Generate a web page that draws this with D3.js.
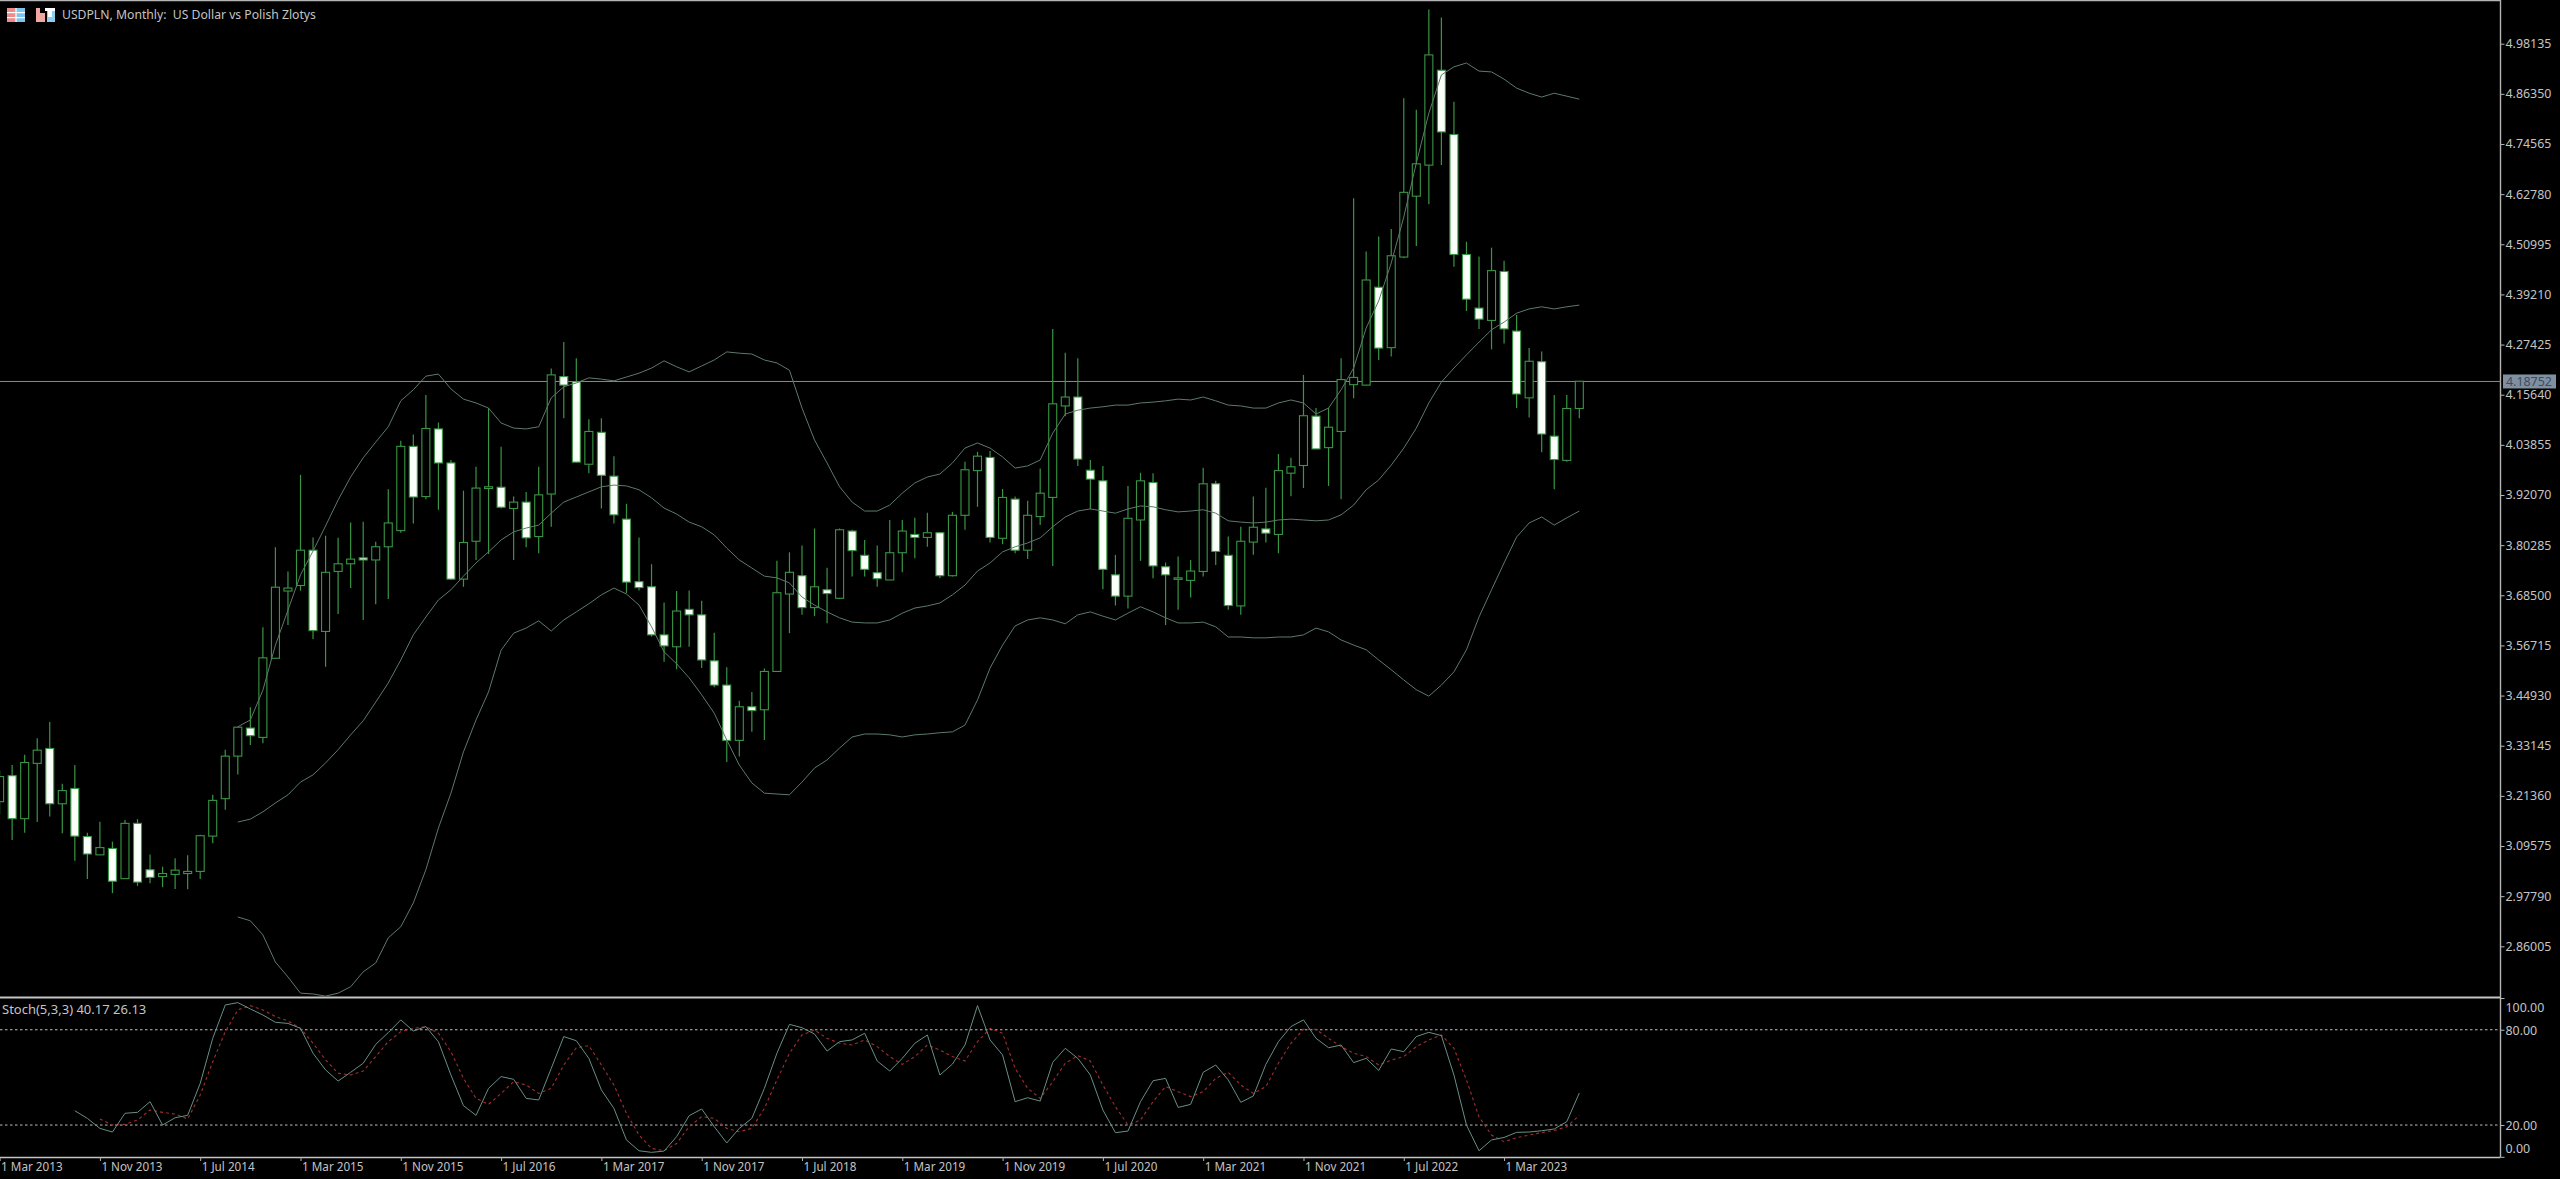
<!DOCTYPE html>
<html>
<head>
<meta charset="utf-8">
<title>USDPLN, Monthly</title>
<script src="https://cdn.jsdelivr.net/npm/d3@7/dist/d3.min.js"></script>
<style>
html,body{margin:0;padding:0;background:#000;overflow:hidden}
svg{display:block}
text{font-family:"Noto Sans","Open Sans",sans-serif;fill:#c8c8c8}
</style>
</head>
<body>
<script>
const chartTitle = "USDPLN, Monthly:  US Dollar vs Polish Zlotys";
const stochTitle = "Stoch(5,3,3) 40.17 26.13";
const dateLabels = ["1 Mar 2013","1 Nov 2013","1 Jul 2014","1 Mar 2015","1 Nov 2015","1 Jul 2016","1 Mar 2017","1 Nov 2017","1 Jul 2018","1 Mar 2019","1 Nov 2019","1 Jul 2020","1 Mar 2021","1 Nov 2021","1 Jul 2022","1 Mar 2023"];
const priceTicks = [4.98135,4.86350,4.74565,4.62780,4.50995,4.39210,4.27425,4.15640,4.03855,3.92070,3.80285,3.68500,3.56715,3.44930,3.33145,3.21360,3.09575,2.97790,2.86005];
const stochTicks = [100,80,20,0];
const stochLevels = [80,20];
const lastPrice = 4.18752;

const opens = [3.200,3.261,3.160,3.290,3.325,3.195,3.231,3.118,3.075,3.090,
3.019,3.149,3.040,3.024,3.029,3.031,3.036,3.119,3.207,3.307,
3.373,3.351,3.537,3.695,3.708,3.791,3.600,3.741,3.759,3.773,
3.768,3.799,3.837,4.035,3.917,4.076,3.996,3.723,3.812,3.936,
3.939,3.889,3.904,3.823,3.923,4.199,4.187,3.993,4.068,3.965,
3.864,3.717,3.705,3.592,3.564,3.652,3.639,3.531,3.474,3.344,
3.423,3.416,3.506,3.688,3.731,3.656,3.698,3.678,3.836,3.779,
3.738,3.721,3.785,3.828,3.821,3.832,3.731,3.873,3.978,4.009,
3.819,3.911,3.791,3.870,3.915,4.130,4.151,3.979,3.954,3.733,
3.683,3.862,3.950,3.752,3.724,3.720,3.741,3.947,3.779,3.660,
3.810,3.841,3.828,3.972,3.990,4.106,4.032,4.070,4.180,4.179,
4.409,4.267,4.480,4.623,4.696,4.919,4.768,4.486,4.360,4.331,
4.446,4.306,4.149,4.234,4.059,4.002,4.124];
const highs = [3.274,3.286,3.310,3.349,3.387,3.242,3.286,3.127,3.153,3.106,
3.157,3.159,3.076,3.047,3.067,3.074,3.122,3.216,3.322,3.376,
3.422,3.610,3.798,3.741,3.968,3.821,3.825,3.820,3.856,3.858,
3.811,3.934,4.048,4.063,4.156,4.091,4.003,3.931,3.987,4.125,
4.034,3.917,3.928,3.987,4.218,4.280,4.242,4.099,4.101,4.012,
3.900,3.821,3.758,3.668,3.695,3.696,3.672,3.597,3.516,3.437,
3.458,3.513,3.766,3.786,3.802,3.842,3.750,3.842,3.839,3.815,
3.802,3.862,3.862,3.867,3.879,3.834,3.881,3.999,4.022,4.024,
3.935,3.917,3.907,3.983,4.311,4.255,4.242,4.003,3.989,3.780,
3.942,3.973,3.972,3.762,3.776,3.768,3.985,3.954,3.823,3.846,
3.917,3.938,4.017,4.008,4.203,4.125,4.125,4.242,4.618,4.493,
4.528,4.546,4.853,4.826,5.062,5.043,4.845,4.516,4.481,4.502,
4.471,4.344,4.266,4.258,4.156,4.156,4.188];
const lows = [3.169,3.110,3.127,3.152,3.165,3.126,3.061,3.018,3.075,2.985,
3.018,3.002,3.008,2.999,2.995,2.994,3.018,3.102,3.181,3.264,
3.333,3.337,3.537,3.615,3.696,3.582,3.517,3.641,3.702,3.627,
3.664,3.676,3.832,3.854,3.911,3.886,3.721,3.705,3.768,3.782,
3.889,3.768,3.798,3.784,3.846,4.101,3.997,3.972,3.889,3.854,
3.690,3.696,3.588,3.529,3.511,3.564,3.514,3.469,3.293,3.306,
3.364,3.345,3.505,3.596,3.639,3.636,3.619,3.676,3.729,3.729,
3.705,3.721,3.739,3.772,3.799,3.725,3.729,3.839,3.893,3.809,
3.805,3.784,3.770,3.850,3.754,4.106,3.989,3.887,3.699,3.661,
3.654,3.766,3.725,3.615,3.651,3.680,3.729,3.756,3.651,3.639,
3.780,3.809,3.784,3.918,3.937,4.029,3.942,3.911,4.148,4.178,
4.238,4.246,4.477,4.506,4.604,4.696,4.457,4.353,4.311,4.263,
4.277,4.125,4.103,4.021,3.934,3.999,4.101];
const closes = [3.259,3.160,3.292,3.321,3.195,3.226,3.119,3.077,3.092,3.013,
3.149,3.011,3.022,3.031,3.039,3.036,3.120,3.203,3.307,3.375,
3.355,3.538,3.704,3.702,3.791,3.602,3.739,3.759,3.770,3.768,
3.799,3.855,4.035,3.916,4.077,3.996,3.723,3.809,3.937,3.940,
3.892,3.904,3.820,3.921,4.203,4.179,3.998,4.070,3.967,3.874,
3.716,3.703,3.592,3.566,3.648,3.639,3.533,3.474,3.344,3.423,
3.414,3.506,3.691,3.739,3.656,3.705,3.689,3.839,3.790,3.746,
3.724,3.785,3.836,3.821,3.832,3.731,3.873,3.980,4.012,3.821,
3.915,3.791,3.873,3.925,4.135,4.151,4.005,3.958,3.746,3.683,
3.866,3.954,3.754,3.733,3.726,3.742,3.947,3.788,3.661,3.812,
3.845,3.831,3.978,3.987,4.107,4.029,4.080,4.192,4.197,4.426,
4.266,4.483,4.632,4.699,4.955,4.774,4.486,4.381,4.334,4.448,
4.311,4.158,4.235,4.064,4.004,4.124,4.188];

const bandFirstBar = 19;
const bollUpper = [3.376,3.392,3.462,3.568,3.650,3.733,3.789,3.848,3.909,3.963,4.008,
4.045,4.081,4.142,4.168,4.200,4.205,4.170,4.146,4.137,4.125,
4.090,4.078,4.076,4.081,4.149,4.175,4.184,4.196,4.193,4.189,
4.198,4.207,4.219,4.236,4.222,4.210,4.224,4.238,4.257,4.254,
4.252,4.238,4.231,4.214,4.125,4.050,3.996,3.940,3.904,3.883,
3.883,3.897,3.925,3.949,3.963,3.970,3.996,4.031,4.043,4.031,
4.010,3.984,3.989,4.003,4.066,4.111,4.120,4.125,4.128,4.132,
4.132,4.137,4.139,4.142,4.146,4.144,4.151,4.142,4.132,4.130,
4.125,4.125,4.137,4.144,4.137,4.111,4.125,4.168,4.219,4.313,
4.377,4.466,4.574,4.701,4.818,4.908,4.927,4.936,4.917,4.915,
4.898,4.877,4.865,4.856,4.865,4.858,4.851];
const bollMiddle = [3.152,3.159,3.176,3.197,3.216,3.246,3.263,3.291,3.322,3.357,3.390,
3.434,3.479,3.533,3.592,3.634,3.674,3.698,3.730,3.761,3.787,
3.815,3.834,3.843,3.850,3.878,3.904,3.916,3.928,3.940,3.944,
3.942,3.933,3.914,3.890,3.876,3.857,3.846,3.827,3.796,3.768,
3.749,3.730,3.726,3.714,3.681,3.662,3.646,3.632,3.622,3.620,
3.620,3.627,3.643,3.655,3.660,3.667,3.686,3.709,3.742,3.761,
3.787,3.799,3.808,3.820,3.846,3.869,3.883,3.888,3.883,3.878,
3.888,3.895,3.893,3.886,3.881,3.883,3.886,3.878,3.860,3.857,
3.855,3.857,3.862,3.864,3.862,3.860,3.862,3.874,3.897,3.933,
3.956,3.991,4.031,4.078,4.137,4.186,4.219,4.250,4.280,4.309,
4.327,4.348,4.358,4.363,4.358,4.363,4.367];
const bollLower = [2.929,2.920,2.887,2.823,2.788,2.750,2.748,2.743,2.750,2.765,2.800,
2.821,2.880,2.906,2.962,3.040,3.138,3.220,3.317,3.392,3.458,
3.556,3.596,3.608,3.625,3.601,3.627,3.646,3.665,3.686,3.702,
3.688,3.662,3.611,3.552,3.524,3.491,3.451,3.408,3.345,3.286,
3.244,3.220,3.218,3.216,3.246,3.279,3.298,3.326,3.352,3.359,
3.359,3.357,3.352,3.357,3.359,3.362,3.364,3.380,3.439,3.514,
3.568,3.613,3.627,3.632,3.627,3.618,3.639,3.646,3.636,3.627,
3.643,3.658,3.646,3.632,3.620,3.620,3.622,3.611,3.587,3.587,
3.585,3.585,3.587,3.587,3.592,3.608,3.599,3.580,3.568,3.557,
3.533,3.510,3.486,3.463,3.448,3.474,3.505,3.557,3.634,3.698,
3.761,3.822,3.855,3.869,3.850,3.867,3.883];

const stochKFirstBar = 6;
const stochK = [29.0,24.2,17.9,15.6,27.4,28.0,34.7,20.0,24.6,26.1,
46.2,74.6,95.6,97.1,93.1,89.3,84.7,84.0,80.9,65.2,
54.7,47.7,53.2,58.9,70.8,78.2,86.2,79.2,82.0,72.5,
51.5,32.2,26.1,43.1,50.5,48.8,36.8,35.8,55.7,75.7,
73.1,62.0,42.1,30.5,10.6,3.8,2.8,3.6,12.7,25.9,
30.1,19.0,8.7,17.9,24.2,43.1,65.2,83.4,81.3,77.3,
66.6,72.5,73.6,77.8,60.3,54.0,62.0,71.5,76.7,51.5,
58.4,70.4,95.2,73.6,64.1,34.7,37.2,35.1,59.5,68.3,
62.0,51.5,29.5,15.2,16.2,34.7,47.9,49.4,31.1,33.0,
53.2,57.8,48.4,34.3,38.3,58.2,72.5,82.0,86.2,74.6,
68.7,70.4,59.3,62.0,54.4,67.9,66.2,75.7,78.4,76.3,
51.5,20.0,3.8,10.6,12.2,15.4,15.6,16.4,17.5,22.1,40.17];
const stochDFirstBar = 8;
const stochD = [23.8,20.0,20.4,23.2,29.5,28.0,26.9,23.8,38.9,59.9,
78.8,92.5,95.2,92.5,88.3,85.5,80.9,71.5,61.0,52.6,
51.5,54.0,63.1,72.5,78.8,80.9,82.0,77.8,66.2,49.4,
36.8,33.0,39.9,47.3,45.2,39.9,43.1,57.8,68.7,70.0,
57.8,45.2,27.4,13.7,5.3,3.8,8.4,19.0,25.3,24.2,
17.9,15.8,17.9,30.5,48.4,65.2,76.7,79.9,74.6,71.5,
70.4,73.6,69.4,63.1,58.2,63.1,70.4,67.2,63.1,60.3,
72.5,80.9,77.8,55.7,43.1,36.8,47.3,58.9,63.7,60.3,
45.2,31.6,20.0,23.2,34.7,44.2,41.0,37.9,41.0,49.4,
53.2,45.2,39.9,44.2,58.9,71.5,80.3,80.3,74.6,69.4,
65.2,63.1,57.8,60.9,63.1,69.4,73.6,76.7,68.3,48.4,
25.2,13.7,9.5,12.0,13.7,15.2,16.6,18.9,26.13];

const W = 2560, H = 1179, AX = 2500.5;
const GREEN = "#3a9644", BAND = "#5d7a6a", GREY = "#b4b4b4", TEXT = "#c4c4c4";

const x = d3.scaleLinear().domain([0, 126]).range([-0.4, 1579.3]);
const y = d3.scaleLinear().domain([4.98135, 2.86005]).range([43.7, 946.3]);
const ys = d3.scaleLinear().domain([100, 0]).range([998, 1156.8]);

const svg = d3.select("body").append("svg").attr("width", W).attr("height", H).style("background", "#000");

// frame
svg.append("line").attr("x1",0).attr("x2",AX).attr("y1",0.5).attr("y2",0.5).attr("stroke",GREY).attr("stroke-width",1.4);
svg.append("line").attr("x1",0).attr("x2",AX).attr("y1",997.5).attr("y2",997.5).attr("stroke","#c4c4c4").attr("stroke-width",2);
svg.append("line").attr("x1",AX).attr("x2",AX).attr("y1",0).attr("y2",1157).attr("stroke",GREY).attr("stroke-width",1.4);

// current price line
svg.append("line").attr("x1",0).attr("x2",AX).attr("y1",y(lastPrice)).attr("y2",y(lastPrice)).attr("stroke","#7f8f87").attr("stroke-width",1);

// candles
const bars = d3.range(opens.length);
const g = svg.append("g").attr("class","candles");
g.selectAll("line").data(bars).join("line")
  .attr("x1",i=>x(i)).attr("x2",i=>x(i))
  .attr("y1",i=>y(highs[i])).attr("y2",i=>y(lows[i]))
  .attr("stroke",GREEN).attr("stroke-width",1.2);
g.selectAll("rect").data(bars).join("rect")
  .attr("x",i=>x(i)-4).attr("width",8)
  .attr("y",i=>y(Math.max(opens[i],closes[i])))
  .attr("height",i=>Math.max(1.5,Math.abs(y(opens[i])-y(closes[i]))))
  .attr("fill",i=>closes[i]>=opens[i]?"#000":"#fbfff9")
  .attr("stroke",GREEN).attr("stroke-width",1.1);

// bollinger bands
const bandLine = d3.line().x((d,i)=>x(i+bandFirstBar)).y(d=>y(d));
[bollUpper,bollMiddle,bollLower].forEach(s=>{
  svg.append("path").attr("d",bandLine(s)).attr("fill","none").attr("stroke",BAND).attr("stroke-width",1);
});

// price axis
const priceAxis = d3.axisRight(y).tickValues(priceTicks).tickFormat(d3.format(".5f")).tickSize(4).tickPadding(1);
const pa = svg.append("g").attr("transform",`translate(${AX},0)`).call(priceAxis);
pa.select(".domain").remove();
pa.selectAll(".tick line").attr("stroke",GREY);
pa.selectAll(".tick text").attr("font-size",12.4).style("fill",TEXT).attr("font-family","Noto Sans");

// price tag
svg.append("rect").attr("x",2503).attr("y",y(lastPrice)-7).attr("width",53).attr("height",14).attr("fill","#80909f");
svg.append("text").attr("x",2506).attr("y",y(lastPrice)+4.5).attr("font-size",12.4).style("fill","#3a4c66").text(d3.format(".5f")(lastPrice));

// stochastic levels
svg.selectAll("line.level").data(stochLevels).join("line").attr("class","level")
  .attr("x1",0).attr("x2",AX).attr("y1",d=>ys(d)).attr("y2",d=>ys(d))
  .attr("stroke","#bcbcbc").attr("stroke-width",1).attr("stroke-dasharray","2.5,2.5");

// stochastic lines
svg.append("path").attr("d",d3.line().x((d,i)=>x(i+stochDFirstBar)).y(d=>ys(d))(stochD))
  .attr("fill","none").attr("stroke","#a02f2f").attr("stroke-width",1.1).attr("stroke-dasharray","3,3");
svg.append("path").attr("d",d3.line().x((d,i)=>x(i+stochKFirstBar)).y(d=>ys(d))(stochK))
  .attr("fill","none").attr("stroke","#688f85").attr("stroke-width",1);

// stochastic axis
const stochAxis = d3.axisRight(ys).tickValues(stochTicks).tickFormat(d3.format(".2f")).tickSize(4).tickPadding(1);
const sa = svg.append("g").attr("transform",`translate(${AX},0)`).call(stochAxis);
sa.select(".domain").remove();
sa.selectAll(".tick line").attr("stroke",GREY);
sa.selectAll(".tick text").attr("font-size",12.4).style("fill",TEXT).attr("font-family","Noto Sans")
  .attr("dy",d=>d===100?"1.05em":d===0?"-0.32em":"0.36em");

// time axis
const timeAxis = d3.axisBottom(x).tickValues(dateLabels.map((d,i)=>i*8)).tickFormat((d,i)=>dateLabels[i]).tickSize(4).tickPadding(2);
const ta = svg.append("g").attr("transform","translate(0,1157)").call(timeAxis);
ta.select(".domain").attr("d",`M0,0.5H${AX}`).attr("stroke","#c4c4c4").attr("stroke-width",1.4);
ta.selectAll(".tick line").attr("stroke",GREY);
ta.selectAll(".tick text").attr("text-anchor","start").attr("x",1).attr("y",6).attr("font-size",11.7).style("fill",TEXT).attr("font-family","Noto Sans");

// titles
svg.append("text").attr("x",62).attr("y",19).attr("font-size",12.2).attr("xml:space","preserve").style("white-space","pre").style("fill",TEXT).text(chartTitle);
svg.append("text").attr("x",2).attr("y",1014).attr("font-size",13).style("fill",TEXT).text(stochTitle);

// small title icons
const icon = svg.append("g");
const iconParts = [[7,8,9,14,"#e88c8c"],[16,8,9,14,"#7cc4ee"]];
iconParts.forEach(p=>icon.append("rect").attr("x",p[0]).attr("y",p[1]).attr("width",p[2]).attr("height",p[3]).attr("fill",p[4]));
[12,17].forEach(v=>icon.append("rect").attr("x",7).attr("y",v).attr("width",18).attr("height",1.2).attr("fill","#fff"));
icon.append("rect").attr("x",15.4).attr("y",8).attr("width",1.2).attr("height",14).attr("fill","#fff");
icon.append("rect").attr("x",36).attr("y",8).attr("width",9).attr("height",14).attr("fill","#f0a8a0");
icon.append("rect").attr("x",47).attr("y",8).attr("width",8).attr("height",14).attr("fill","#8ccdf0");
icon.append("rect").attr("x",40).attr("y",8).attr("width",5).attr("height",5).attr("fill","#000");
icon.append("rect").attr("x",45).attr("y",8).attr("width",10).attr("height",3).attr("fill","#fff");
icon.append("rect").attr("x",48).attr("y",11).attr("width",4).attr("height",6).attr("fill","#fff");
</script>
</body>
</html>
